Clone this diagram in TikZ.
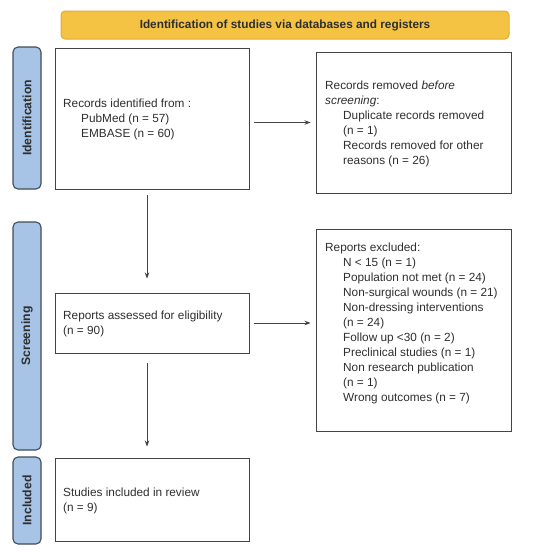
\documentclass[tikz,border=0pt]{standalone}
\usepackage{fontspec}
\setmainfont{Liberation Sans}
\usetikzlibrary{arrows.meta}
\definecolor{banfill}{HTML}{F4C343}
\definecolor{bandraw}{HTML}{E3AE2A}
\definecolor{sidefill}{HTML}{A7C3E6}
\definecolor{sidedraw}{HTML}{414B5A}
\definecolor{boxdraw}{HTML}{444444}
\definecolor{txt}{HTML}{2E2E2E}
\tikzset{
  flowbox/.style={draw=boxdraw, line width=0.95pt, rectangle, inner sep=0pt},
  boxtext/.style={anchor=west, align=left, inner sep=0pt, text=txt,
    font=\fontsize{11.8}{15}\selectfont},
  sidelabel/.style={draw=sidedraw, fill=sidefill, line width=1.1pt, rounded corners=5pt,
    minimum width=28pt, inner sep=0pt},
  sidetext/.style={rotate=90, text=txt, inner sep=0pt, font=\fontsize{12.2}{14}\selectfont\bfseries},
  arr/.style={draw=boxdraw, line width=0.8pt, -{Stealth[length=6pt,width=4.5pt]}}
}
\newcommand{\ind}{\hspace*{18pt}}
\begin{document}
\begin{tikzpicture}[x=1pt,y=-1pt]
\useasboundingbox (0,0) rectangle (550,552);
% banner
\node[draw=bandraw, fill=banfill, line width=1pt, rounded corners=4pt,
  minimum width=448pt, minimum height=28pt, inner sep=0pt,
  font=\fontsize{11.8}{14}\selectfont\bfseries, text=txt] (banner) at (285,25)
  {Identification of studies via databases and registers};
% side labels
\node[sidelabel, minimum height=142pt] (sideid) at (27,118) {};
\node[sidetext] (sideidt) at (sideid.center) {Identification};
\node[sidelabel, minimum height=228pt] (sidescr) at (27,336) {};
\node[sidetext] (sidescrt) at (sidescr.center) {Screening};
\node[sidelabel, minimum height=87pt] (sideinc) at (27,500.5) {};
\node[sidetext] (sideinct) at (sideinc.center) {Included};
% boxes
\node[flowbox, minimum width=194pt, minimum height=141pt] (box1) at (152,118.5) {};
\node[boxtext] (box1t) at (63,119) {Records identified from :\\
\ind PubMed (n = 57)\\
\ind EMBASE (n = 60)};
\node[flowbox, minimum width=195pt, minimum height=141pt] (box2) at (413.5,122.5) {};
\node[boxtext] (box2t) at (325,123.5) {Records removed \textit{before}\\
\textit{screening}:\\
\ind Duplicate records removed\\
\ind (n = 1)\\
\ind Records removed for other\\
\ind reasons (n = 26)};
\node[flowbox, minimum width=194pt, minimum height=60pt] (box3) at (152,323) {};
\node[boxtext] (box3t) at (63,323.5) {Reports assessed for eligibility\\
(n = 90)};
\node[flowbox, minimum width=195pt, minimum height=202pt] (box4) at (413.5,330) {};
\node[boxtext] (box4t) at (325,323) {Reports excluded:\\
\ind N < 15 (n = 1)\\
\ind Population not met (n = 24)\\
\ind Non-surgical wounds (n = 21)\\
\ind Non-dressing interventions\\
\ind (n = 24)\\
\ind Follow up <30 (n = 2)\\
\ind Preclinical studies (n = 1)\\
\ind Non research publication\\
\ind (n = 1)\\
\ind Wrong outcomes (n = 7)};
\node[flowbox, minimum width=194pt, minimum height=83pt] (box5) at (152,499.5) {};
\node[boxtext] (box5t) at (63,500.5) {Studies included in review\\
(n = 9)};
% arrows
\draw[arr] ([xshift=5pt]box1.east |- box2.center) -- ([xshift=-5pt]box2.west);
\draw[arr] ([xshift=5pt]box3.east) -- ([xshift=-5pt]box4.west |- box3.center);
\draw[arr] ([xshift=-5pt,yshift=-6pt]box1.south) -- ([xshift=-5pt,yshift=14pt]box3.north);
\draw[arr] ([xshift=-5pt,yshift=-10pt]box3.south) -- ([xshift=-5pt,yshift=11pt]box5.north);
\end{tikzpicture}
\end{document}
